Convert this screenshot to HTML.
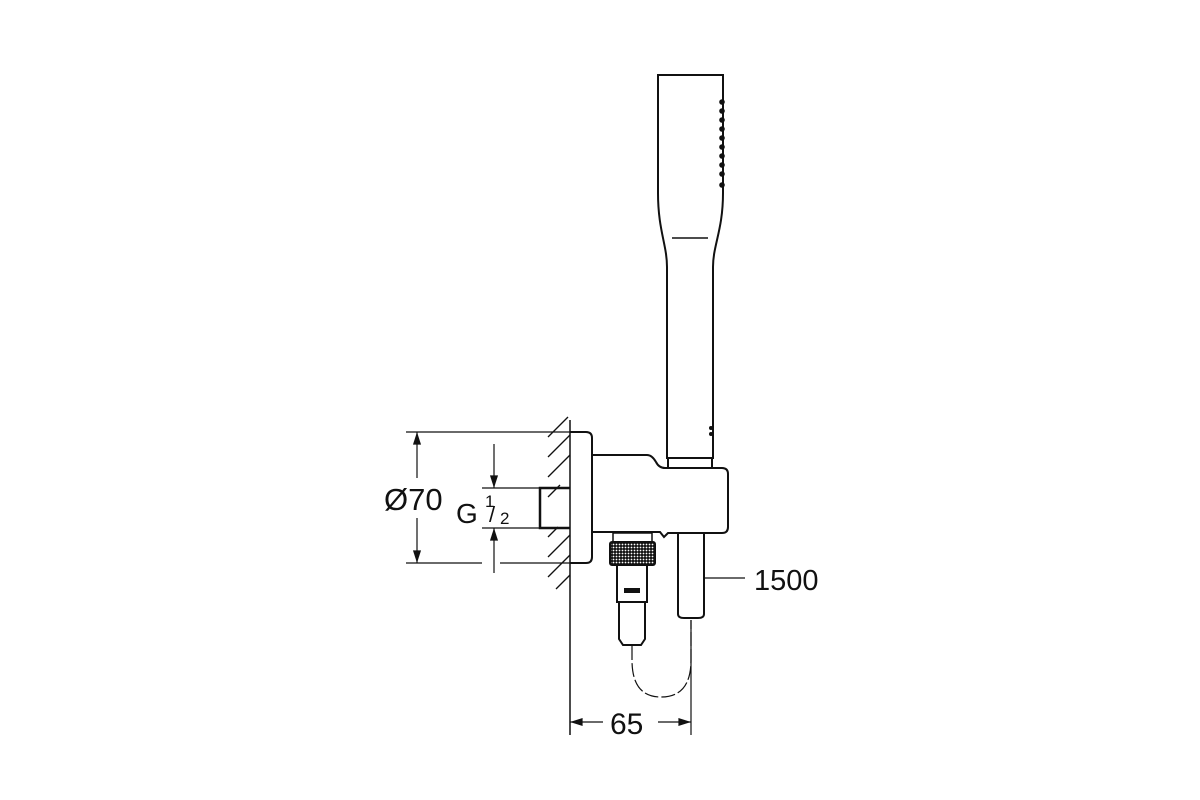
<!DOCTYPE html>
<html><head><style>body{margin:0;background:#fff}svg{display:block}</style></head><body>
<svg width="1200" height="800" viewBox="0 0 1200 800" xmlns="http://www.w3.org/2000/svg" font-family="Liberation Sans, sans-serif">
<defs>
<marker id="a" viewBox="0 0 14 10" refX="14" refY="5" markerWidth="14" markerHeight="9" orient="auto-start-reverse" markerUnits="userSpaceOnUse"><path d="M0,0.5 L14,5 L0,9.5z" fill="#111"/></marker>
</defs>
<g fill="none" stroke="#111" stroke-width="2">
<path d="M658,75 H723 V193 C723,230 713,245 713,267 V458 H667 V267 C667,245 658,230 658,193 Z"/>
<line x1="672" y1="238" x2="708" y2="238" stroke-width="1.5"/>
<rect x="668" y="458" width="44" height="10" stroke-width="2"/>
<line x1="570" y1="420" x2="570" y2="735" stroke-width="1.5"/>
<path d="M570,432 H586 Q592,432 592,438 V557 Q592,563 586,563 H570"/>
<path d="M592,455 H647 Q652,455 656,462 Q659,468 665,468 H722 Q728,468 728,474 V527 Q728,533 722,533 H668 L664,537 L660,532 H592"/>
<path d="M570,488 H540 V528 H570" stroke-width="2.5"/>
<rect x="613" y="533" width="39" height="9" stroke-width="1.5"/>
<rect x="610" y="542" width="45" height="23" rx="2" fill="#fff"/>
<path d="M617,565 V602 H647 V565"/>
<path d="M619,602 V639 L623,645 H641 L645,639 V602"/>
<rect x="624" y="588" width="16" height="5" fill="#111" stroke="none"/>
<path d="M678,533 V614 Q678,618 684,618 H698 Q704,618 704,614 V533"/>
<path d="M632,646 V660 Q632,697 661,697 Q691,697 691,660 V620" stroke-width="1.2" stroke-dasharray="14,3"/>
</g>
<pattern id="k" width="3" height="3" patternUnits="userSpaceOnUse"><rect width="3" height="3" fill="#111"/><circle cx="1.5" cy="1.5" r="0.9" fill="#fff"/></pattern>
<rect x="611" y="543" width="43" height="21" fill="url(#k)"/>
<g fill="#111">
<circle cx="722" cy="102" r="2.8"/><circle cx="722" cy="111" r="2.8"/><circle cx="722" cy="120" r="2.8"/><circle cx="722" cy="129" r="2.8"/><circle cx="722" cy="138" r="2.8"/><circle cx="722" cy="147" r="2.8"/><circle cx="722" cy="156" r="2.8"/><circle cx="722" cy="165" r="2.8"/><circle cx="722" cy="174" r="2.8"/><circle cx="722" cy="185" r="2.8"/>
<circle cx="711" cy="428" r="2"/><circle cx="711" cy="434" r="2"/>
</g>
<g stroke="#111" stroke-width="1.3">
<line x1="548" y1="437" x2="568" y2="417"/><line x1="548" y1="457" x2="570" y2="435"/><line x1="548" y1="477" x2="570" y2="455"/><line x1="548" y1="497" x2="560" y2="485"/><line x1="548" y1="537" x2="558" y2="527"/><line x1="548" y1="557" x2="570" y2="535"/><line x1="548" y1="577" x2="570" y2="555"/><line x1="556" y1="589" x2="570" y2="575"/>
</g>
<g stroke="#111" stroke-width="1.2" fill="none">
<line x1="406" y1="432" x2="570" y2="432"/>
<line x1="406" y1="563" x2="482" y2="563"/><line x1="500" y1="563" x2="570" y2="563"/>
<line x1="417" y1="432" x2="417" y2="478" marker-start="url(#a)"/>
<line x1="417" y1="518" x2="417" y2="563" marker-end="url(#a)"/>
<line x1="482" y1="488" x2="540" y2="488"/><line x1="482" y1="528" x2="540" y2="528"/>
<line x1="494" y1="444" x2="494" y2="488" marker-end="url(#a)"/>
<line x1="494" y1="573" x2="494" y2="528" marker-end="url(#a)"/>
<line x1="691" y1="620" x2="691" y2="735"/>
<line x1="570" y1="722" x2="603" y2="722" marker-start="url(#a)"/>
<line x1="658" y1="722" x2="691" y2="722" marker-end="url(#a)"/>
<line x1="704" y1="578" x2="745" y2="578"/>
</g>
<g fill="#111">
<text x="384" y="510" font-size="31">Ø70</text>
<text x="456" y="523" font-size="28">G</text>
<text x="485" y="507" font-size="17">1</text>
<text x="489" y="522" font-size="22">/</text>
<text x="500" y="524" font-size="17">2</text>
<text x="610" y="734" font-size="30">65</text>
<text x="754" y="590" font-size="29">1500</text>
</g>
</svg>
</body></html>
